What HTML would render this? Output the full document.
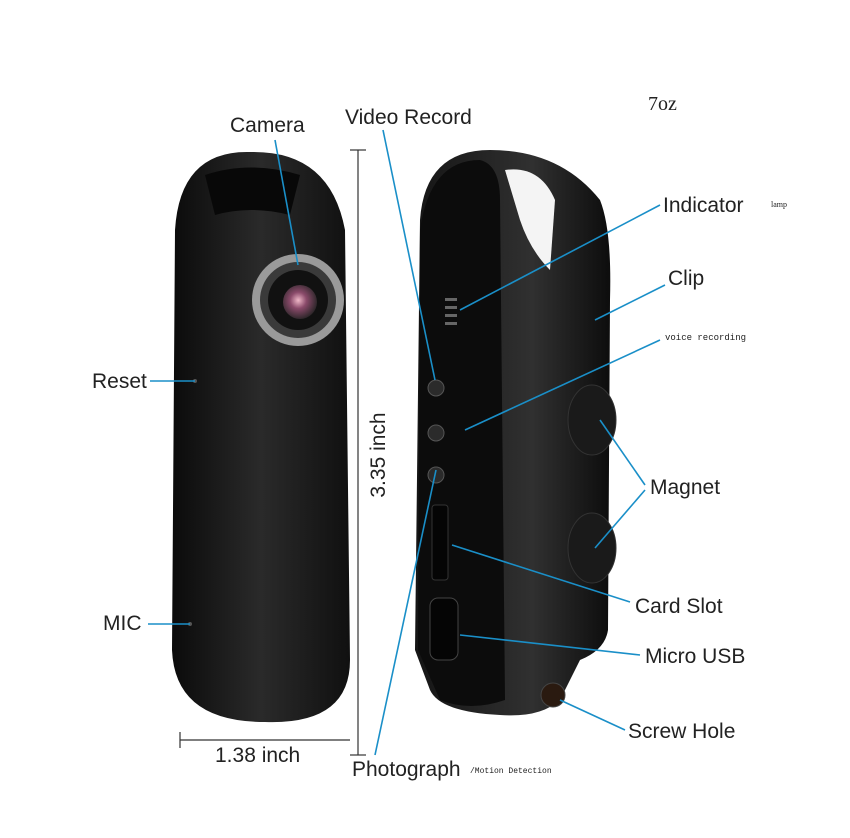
<!DOCTYPE html>
<html><head><meta charset="utf-8"><style>
html,body{margin:0;padding:0;background:#fff;}
svg{display:block}
text{font-family:"Liberation Sans",sans-serif;fill:#222;}
</style></head><body>
<svg width="850" height="838" viewBox="0 0 850 838" xmlns="http://www.w3.org/2000/svg">
<defs>
<linearGradient id="g1" x1="0" x2="1" y1="0" y2="0">
<stop offset="0" stop-color="#0b0b0b"/><stop offset="0.5" stop-color="#2a2a2a"/><stop offset="1" stop-color="#101010"/>
</linearGradient>
<linearGradient id="g2" x1="0" x2="1" y1="0" y2="0">
<stop offset="0" stop-color="#151515"/><stop offset="0.6" stop-color="#303030"/><stop offset="1" stop-color="#0d0d0d"/>
</linearGradient>
<radialGradient id="lens" cx="0.45" cy="0.45" r="0.6">
<stop offset="0" stop-color="#f0b8c8"/><stop offset="0.4" stop-color="#8a4a6a"/><stop offset="1" stop-color="#222"/>
</radialGradient>
</defs>
<!-- left device -->
<path d="M175 230 Q180 150 250 152 Q330 150 345 230 L350 660 Q350 725 265 722 Q175 722 172 650 Z" fill="url(#g1)"/>
<path d="M205 175 Q250 160 300 175 L290 215 Q250 205 215 215 Z" fill="#080808"/>
<circle cx="298" cy="300" r="46" fill="#9a9a9a"/>
<circle cx="298" cy="300" r="38" fill="#3a3a3a"/>
<circle cx="298" cy="300" r="30" fill="#111"/>
<circle cx="300" cy="302" r="17" fill="url(#lens)"/>
<circle cx="195" cy="381" r="2" fill="#555"/>
<circle cx="190" cy="624" r="2" fill="#555"/>
<!-- right device -->
<path d="M420 220 Q425 150 490 150 Q560 150 600 200 Q612 230 610 300 L608 630 Q605 650 580 660 L560 700 Q540 718 500 715 Q440 712 430 690 L415 650 Z" fill="url(#g2)"/>
<path d="M420 230 Q430 160 480 160 Q500 165 500 200 L505 700 Q470 712 440 700 L418 650 Z" fill="#0c0c0c"/>
<path d="M505 170 Q540 165 555 200 L550 270 Q530 250 520 220 Z" fill="#fff" opacity="0.95"/>
<ellipse cx="592" cy="420" rx="24" ry="35" fill="#1a1a1a" stroke="#333"/>
<ellipse cx="592" cy="548" rx="24" ry="35" fill="#1a1a1a" stroke="#333"/>
<rect x="445" y="298" width="12" height="3" fill="#666"/><rect x="445" y="306" width="12" height="3" fill="#666"/><rect x="445" y="314" width="12" height="3" fill="#666"/><rect x="445" y="322" width="12" height="3" fill="#666"/>
<circle cx="436" cy="388" r="8" fill="#2b2b2b" stroke="#555"/>
<circle cx="436" cy="433" r="8" fill="#2b2b2b" stroke="#555"/>
<circle cx="436" cy="475" r="8" fill="#2b2b2b" stroke="#555"/>
<rect x="432" y="505" width="16" height="75" rx="3" fill="#050505" stroke="#333"/>
<rect x="430" y="598" width="28" height="62" rx="8" fill="#050505" stroke="#444"/>
<circle cx="553" cy="695" r="12" fill="#2a1a10" stroke="#444"/>
<!-- dimension lines -->
<g stroke="#333" stroke-width="1.2" fill="none">
<line x1="358" y1="150" x2="358" y2="755"/><line x1="350" y1="150" x2="366" y2="150"/><line x1="350" y1="755" x2="366" y2="755"/>
<line x1="180" y1="740" x2="350" y2="740"/><line x1="180" y1="732" x2="180" y2="748"/>
</g>
<text x="385" y="455" font-size="21" transform="rotate(-90 385 455)" text-anchor="middle">3.35 inch</text>
<text x="215" y="762" font-size="21">1.38 inch</text>
<!-- leaders -->
<g stroke="#1a8fc8" stroke-width="1.6">
<line x1="275" y1="140" x2="298" y2="265"/>
<line x1="383" y1="130" x2="435" y2="380"/>
<line x1="660" y1="205" x2="460" y2="310"/>
<line x1="665" y1="285" x2="595" y2="320"/>
<line x1="660" y1="340" x2="465" y2="430"/>
<line x1="150" y1="381" x2="195" y2="381"/>
<line x1="645" y1="485" x2="600" y2="420"/>
<line x1="645" y1="490" x2="595" y2="548"/>
<line x1="630" y1="602" x2="452" y2="545"/>
<line x1="148" y1="624" x2="190" y2="624"/>
<line x1="640" y1="655" x2="460" y2="635"/>
<line x1="625" y1="730" x2="560" y2="700"/>
<line x1="375" y1="755" x2="436" y2="470"/>
</g>
<text x="230" y="132" font-size="21">Camera</text>
<text x="345" y="124" font-size="21">Video Record</text>
<text x="648" y="110" font-size="20" style="font-family:'Liberation Serif',serif">7oz</text>
<text x="663" y="212" font-size="21">Indicator</text>
<text x="771" y="207" font-size="8" style="font-family:'Liberation Serif',serif">lamp</text>
<text x="668" y="285" font-size="21">Clip</text>
<text x="665" y="340" font-size="9" style="font-family:'Liberation Mono',monospace">voice recording</text>
<text x="92" y="388" font-size="21">Reset</text>
<text x="650" y="494" font-size="21">Magnet</text>
<text x="635" y="613" font-size="21">Card Slot</text>
<text x="103" y="630" font-size="21">MIC</text>
<text x="645" y="663" font-size="21">Micro USB</text>
<text x="628" y="738" font-size="21">Screw Hole</text>
<text x="352" y="776" font-size="21">Photograph</text>
<text x="470" y="773" font-size="8" style="font-family:'Liberation Mono',monospace">/Motion Detection</text>
</svg>
</body></html>
